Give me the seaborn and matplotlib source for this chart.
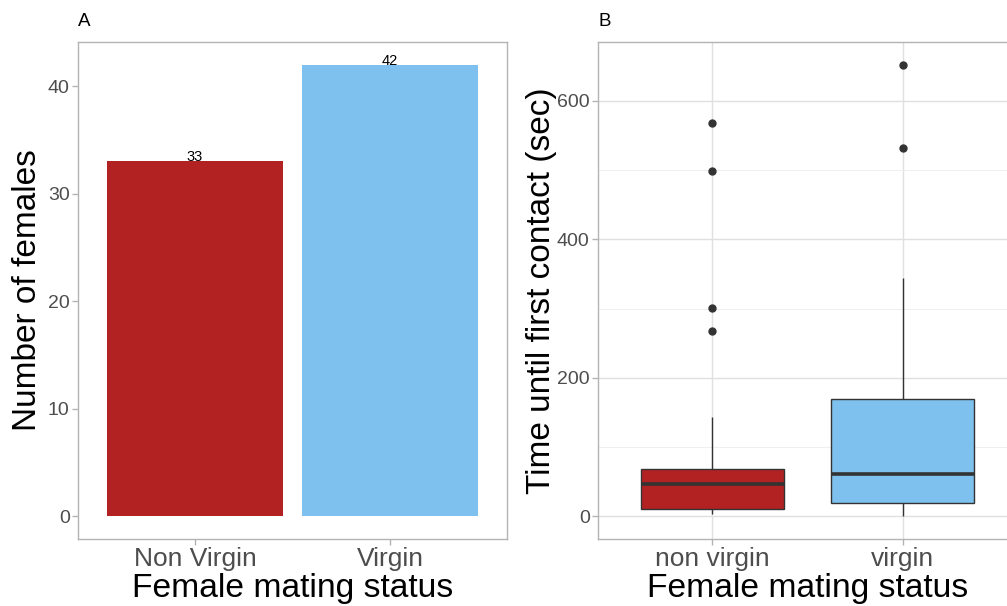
import numpy as np
import pandas as pd
import matplotlib
matplotlib.use("Agg")
import matplotlib.pyplot as plt
import seaborn as sns

# ---- data ----
status_counts = ["Non Virgin", "Virgin"]
female_counts = [33, 42]

status_box = ["non virgin", "virgin"]
time_nonvirgin = [3, 4, 5, 6, 7, 8, 9, 10, 11, 14, 18, 22, 27, 32, 38, 43, 47,
                  50, 53, 56, 59, 62, 65, 67, 69, 80, 95, 120, 144,
                  268, 301, 499, 568]
time_virgin = [0, 3, 6, 8, 10, 12, 14, 16, 18, 19, 20, 20, 25, 30, 35, 40, 45,
               50, 55, 58, 61, 61, 70, 85, 100, 115, 130, 145, 155, 165, 170,
               170, 190, 210, 230, 250, 270, 295, 320, 344, 532, 652]

colors = ["#B22222", "#7EC0EE"]

sns.set_theme(style="white")
plt.rcParams["font.family"] = ["Liberation Sans", "DejaVu Sans"]

W, H = 1007, 606
fig = plt.figure(figsize=(W / 100, H / 100), dpi=100)

def ax_rect(l, r, t, b):
    return [l / W, (H - b) / H, (r - l) / W, (b - t) / H]

border = "#B3B3B3"
tickc = "#4D4D4D"

# ---- Panel A ----
axA = fig.add_axes(ax_rect(78, 507, 42, 539))
dfA = pd.DataFrame({"status": status_counts, "n": female_counts})
sns.barplot(data=dfA, x="status", y="n", hue="status", palette=colors,
            width=0.9, legend=False, ax=axA, linewidth=0, saturation=1)
for i, v in enumerate(female_counts):
    axA.text(i, v, str(v), ha="center", va="baseline", fontsize=10.5, color="black")
axA.set_xlim(-0.6, 1.6)
axA.set_ylim(-0.05 * max(female_counts), max(female_counts) * 1.05)
axA.set_yticks([0, 10, 20, 30, 40])
axA.set_ylabel("Number of females", fontsize=24, color="black")
axA.set_xlabel("Female mating status", fontsize=24.2, color="black")

# ---- Panel B ----
axB = fig.add_axes(ax_rect(598, 1017, 42, 539))
dfB = pd.DataFrame({
    "status": [status_box[0]] * len(time_nonvirgin) + [status_box[1]] * len(time_virgin),
    "time": time_nonvirgin + time_virgin,
})
axB.set_axisbelow(True)
sns.boxplot(data=dfB, x="status", y="time", hue="status", palette=colors,
            width=0.75, legend=False, ax=axB, saturation=1,
            linecolor="#333333", linewidth=1.0, whis=1.5,
            medianprops=dict(linewidth=2.6, color="#333333"),
            flierprops=dict(marker="o", markersize=5, markerfacecolor="#333333",
                            markeredgecolor="#333333"),
            capprops=dict(linewidth=0))
allv = time_nonvirgin + time_virgin
rng = max(allv) - min(allv)
axB.set_ylim(min(allv) - 0.05 * rng, max(allv) + 0.05 * rng)
axB.set_xlim(-0.6, 1.6)
axB.set_yticks([0, 200, 400, 600])
axB.set_yticks([100, 300, 500], minor=True)
axB.grid(True, which="major", color="#E0E0E0", linewidth=1.0)
axB.grid(True, which="minor", axis="y", color="#EDEDED", linewidth=0.6)
axB.set_ylabel("Time until first contact (sec)", fontsize=24, color="black")
axB.set_xlabel("Female mating status", fontsize=24.2, color="black")

for ax, lab, ylx in [(axA, "A", -0.1166), (axB, "B", -0.136)]:
    for s in ax.spines.values():
        s.set_visible(True)
        s.set_color(border)
        s.set_linewidth(1.0)
    ax.tick_params(axis="both", which="major", length=4, width=1, color=border,
                   colors=tickc, bottom=True, left=True)
    ax.tick_params(axis="both", which="minor", length=0)
    ax.tick_params(axis="y", labelsize=14, pad=2)
    ax.tick_params(axis="x", labelsize=19, pad=2)
    ax.yaxis.label.set_va("center")
    ax.yaxis.set_label_coords(ylx, 0.5)
    ax.xaxis.label.set_va("center")
    ax.xaxis.set_label_coords(0.5, -0.1)
    ax.text(0, 1.024, lab, transform=ax.transAxes, ha="left", va="bottom",
            fontsize=13.5, color="black")

fig.savefig("out.png", dpi=100)
